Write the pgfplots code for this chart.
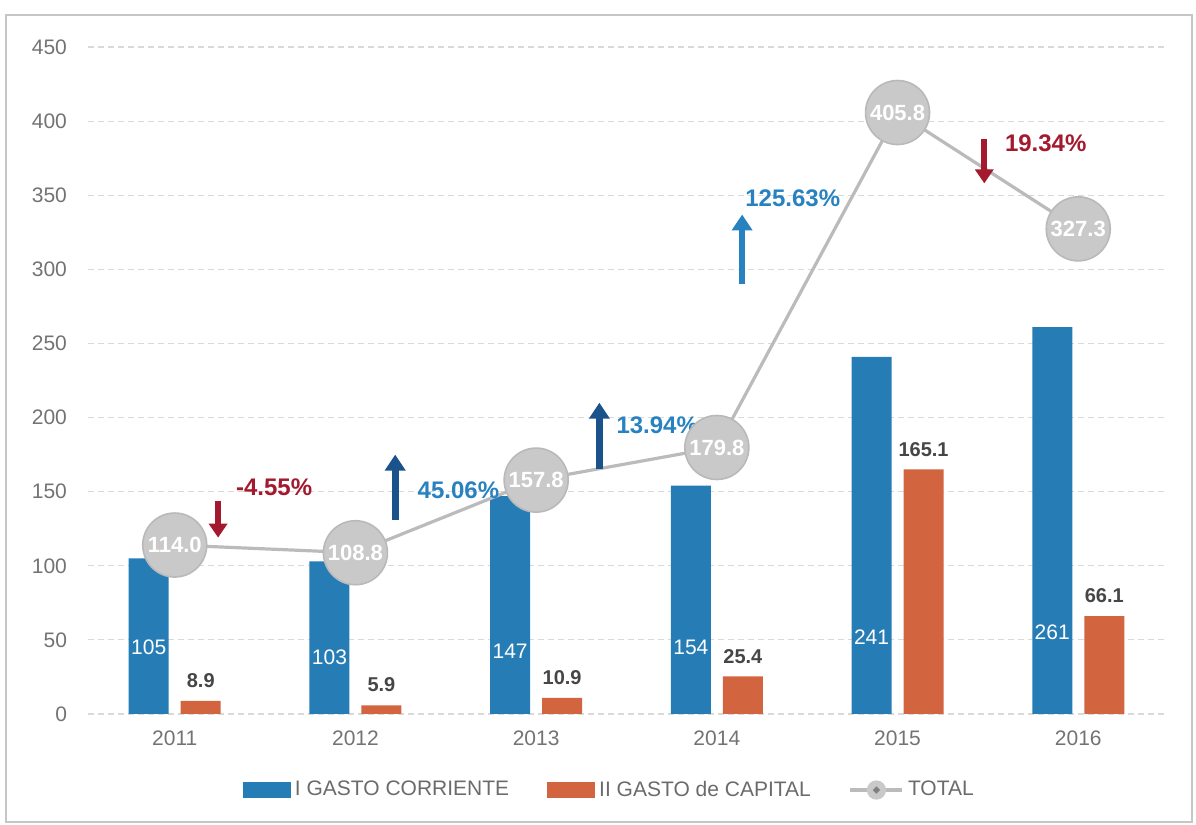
\documentclass[border=0pt]{standalone}
\usepackage{pgfplots}
\pgfplotsset{compat=1.18}
\usetikzlibrary{arrows.meta}
\usepackage{fontspec}
\setmainfont{Liberation Sans}
\definecolor{cblue}{RGB}{38,125,182}
\definecolor{corange}{RGB}{210,101,64}
\definecolor{cgray}{RGB}{201,201,201}
\definecolor{cgrayedge}{RGB}{185,185,185}
\definecolor{cline}{RGB}{187,187,187}
\definecolor{cred}{RGB}{163,25,45}
\definecolor{cnavy}{RGB}{26,82,140}
\definecolor{ctxtblue}{RGB}{40,130,192}
\definecolor{ctick}{RGB}{115,115,115}
\definecolor{cdark}{RGB}{70,70,70}
\begin{document}
\begin{tikzpicture}
\useasboundingbox (-44pt,-55.5pt) rectangle (554pt,357pt);
\draw[gray!45, line width=0.6pt] (-41pt,-54pt) rectangle (552pt,349.5pt);
\begin{axis}[
  at={(0pt,0pt)}, anchor=south west,
  width=538.5pt, height=333.5pt, scale only axis,
  xmin=-0.48, xmax=5.48, ymin=0, ymax=450,
  axis line style={draw=none},
  tick style={draw=none},
  ymajorgrids,
  grid style={densely dashed, gray!30, line width=0.6pt},
  ytick={0,50,...,450},
  xtick={0,1,2,3,4,5},
  xticklabels={2011,2012,2013,2014,2015,2016},
  /pgf/number format/assume math mode=true,
  tick label style={font=\fontsize{10.5}{12}\selectfont, text=ctick},
  yticklabel style={xshift=-7pt},
  xticklabel style={yshift=-5pt},
  legend style={at={(0.485,-0.114)}, anchor=center, draw=none, fill=none,
    legend columns=3, font=\fontsize{10.5}{12}\selectfont, text=cdark!80,
    /tikz/every even column/.append style={column sep=17pt}},
  legend cell align=left,
]
\addplot[ybar, bar width=20pt, bar shift=-13pt, fill=cblue, draw=none,
  legend image code/.code={\fill[cblue] (0pt,-4pt) rectangle (24pt,4pt);}]
  coordinates {(0,105) (1,103) (2,147) (3,154) (4,241) (5,261)};
\addlegendentry{I GASTO CORRIENTE}
\addplot[ybar, bar width=20pt, bar shift=13pt, fill=corange, draw=none,
  nodes near coords, point meta=explicit symbolic,
  nodes near coords style={font=\bfseries\fontsize{10}{12}\selectfont, text=cdark, yshift=3pt, xshift=13pt},
  legend image code/.code={\fill[corange] (0pt,-4pt) rectangle (24pt,4pt);}]
  coordinates {(0,8.9)[8.9] (1,5.9)[5.9] (2,10.9)[10.9] (3,25.4)[25.4] (4,165.1)[165.1] (5,66.1)[66.1]};
\addlegendentry{II GASTO de CAPITAL}
% labels inside blue bars
\addplot[draw=none, mark=none, forget plot,
  nodes near coords, point meta=explicit symbolic,
  nodes near coords style={anchor=center, xshift=-13pt, text=white, font=\fontsize{10.5}{12}\selectfont}]
  coordinates {(0,45)[105] (1,38)[103] (2,42)[147] (3,45)[154] (4,52)[241] (5,55)[261]};
\addplot[cline, line width=1.6pt, mark=*, mark size=16pt,
  mark options={fill=cgray, draw=cgrayedge, line width=0.8pt},
  nodes near coords, point meta=explicit symbolic,
  nodes near coords style={anchor=center, text=white, font=\bfseries\fontsize{11}{12}\selectfont},
  legend image code/.code={\draw[cline, line width=1.6pt] (0pt,0pt) -- (26pt,0pt);
     \fill[cgray] (13pt,0pt) circle (4pt); \fill[gray] (13pt,0pt) circle (0.7pt);}]
  coordinates {(0,114.0)[114.0] (1,108.8)[108.8] (2,157.8)[157.8] (3,179.8)[179.8] (4,405.8)[405.8] (5,327.3)[327.3]};
\addlegendentry{TOTAL}
% arrows and growth labels
\draw[cred, line width=3.2pt, -{Triangle[length=7pt, width=9pt]}] (axis cs:0.24,144) -- (axis cs:0.24,119);
\node[cred, font=\bfseries\fontsize{12}{14}\selectfont] at (axis cs:0.55,153) {-4.55\%};
\draw[cnavy, line width=3.4pt, -{Triangle[length=8pt, width=10pt]}] (axis cs:1.22,131) -- (axis cs:1.22,175);
\node[ctxtblue, font=\bfseries\fontsize{12}{14}\selectfont] at (axis cs:1.57,151) {45.06\%};
\draw[cnavy, line width=3.4pt, -{Triangle[length=8pt, width=10pt]}] (axis cs:2.35,165) -- (axis cs:2.35,210);
\node[ctxtblue, font=\bfseries\fontsize{12}{14}\selectfont] at (axis cs:2.67,195) {13.94\%};
\draw[ctxtblue, line width=3.2pt, -{Triangle[length=8pt, width=10pt]}] (axis cs:3.14,290) -- (axis cs:3.14,337);
\node[ctxtblue, font=\bfseries\fontsize{12}{14}\selectfont] at (axis cs:3.42,348) {125.63\%};
\draw[cred, line width=3.2pt, -{Triangle[length=7pt, width=9pt]}] (axis cs:4.48,388) -- (axis cs:4.48,358);
\node[cred, font=\bfseries\fontsize{12}{14}\selectfont] at (axis cs:4.82,385) {19.34\%};
\end{axis}
\end{tikzpicture}
\end{document}
